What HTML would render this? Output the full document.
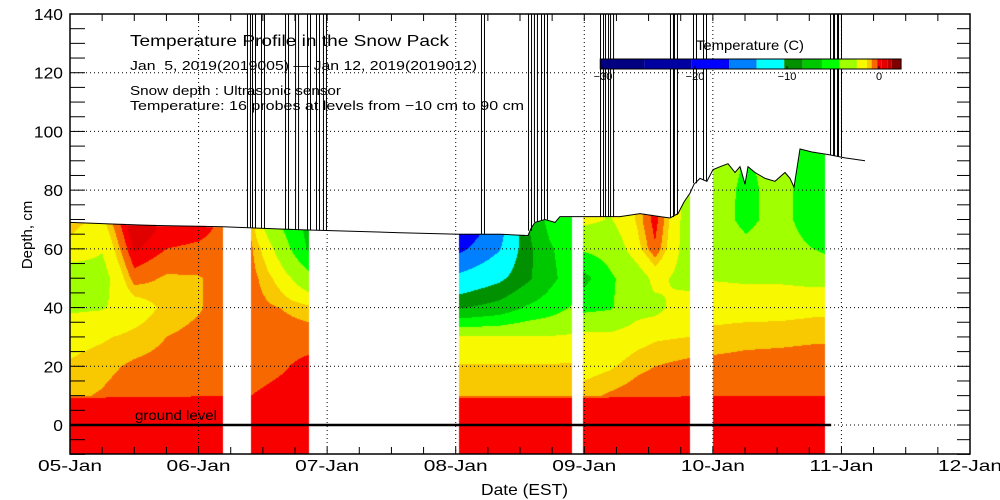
<!DOCTYPE html>
<html><head><meta charset="utf-8">
<style>
html,body{margin:0;padding:0;background:#fff;}
#wrap{position:relative;width:1000px;height:500px;overflow:hidden;}
canvas,svg{position:absolute;left:0;top:0;}
text{font-family:"Liberation Sans",sans-serif;fill:#000;}
</style></head>
<body>
<div id="wrap">
<canvas id="heat" width="1000" height="500"></canvas>
<svg id="svg" width="1000" height="500"></svg>
</div>
<script>
// ---------- data ----------
const levels = [-10, 0, 9, 10, 20, 30, 40, 50, 60, 70, 80, 90];
const segStart = [0, 1.408, 3.026, 3.99, 5.0];
const segEnd = [1.19, 1.859, 3.905, 4.82, 5.87];
const segDays = [
  [0, 0.25, 0.5, 0.75, 1.0, 1.19],
  [1.41, 1.52, 1.63, 1.86],
  [3.03, 3.34, 3.55, 3.73, 3.90],
  [4.00, 4.20, 4.41, 4.55, 4.82],
  [5.03, 5.26, 5.52, 5.78, 5.87]
];
const segTemps = [
  [
    [0.2,0.1,0.1,-0.9,-1.2,-1.6,-2.6,-3.4,-1.5,-1.0,-1.0,-1.0],
    [0.2,0.1,0.1,-0.75,-0.95,-1.4,-2.5,-3.0,-2.3,-1.5,-1.5,-1.5],
    [0.2,0.1,0.1,-0.5,-0.7,-1.1,-1.8,-0.5,0.4,1.0,1.0,1.0],
    [0.2,0.1,0.1,-0.4,-0.6,-0.8,-1.1,-0.9,-0.2,0.2,0.2,0.2],
    [0.2,0.1,0.1,-0.3,-0.45,-0.65,-0.85,-0.85,-0.3,0.1,0.1,0.1],
    [0.2,0.1,0.1,-0.3,-0.4,-0.5,-0.6,-0.55,-0.4,-0.3,-0.3,-0.3]
  ],
  [
    [0.2,0.1,0.1,-0.2,-0.45,-0.55,-0.6,-0.6,-0.7,-1.0,-1.0,-1.0],
    [0.2,0.1,0.1,-0.1,-0.4,-0.55,-0.7,-1.0,-1.6,-3.0,-3.0,-3.0],
    [0.2,0.1,0.1,0.0,-0.3,-0.5,-0.8,-1.6,-3.0,-4.5,-4.5,-4.5],
    [0.2,0.1,0.1,0.0,0.0,-0.5,-1.1,-3.6,-6.5,-7.0,-7.0,-7.0]
  ],
  [
    [0.2,0.1,0.1,-0.9,-1.2,-2.3,-8.5,-12.5,-17,-20,-20,-20],
    [0.2,0.1,0.1,-0.9,-1.2,-2.3,-7.5,-10.8,-13.5,-15,-15,-15],
    [0.2,0.1,0.1,-0.9,-1.2,-2.3,-6.0,-8.8,-9.0,-8.5,-8.5,-8.5],
    [0.2,0.1,0.1,-0.9,-1.2,-2.3,-5.2,-6.8,-6.5,-5.5,-5.5,-5.5],
    [0.2,0.1,0.1,-0.9,-1.2,-2.2,-4.2,-5.2,-5.0,-4.8,-4.8,-4.8]
  ],
  [
    [0.2,0.1,0.1,-1.0,-1.6,-1.9,-4.8,-6.8,-4.0,-2.0,-2.0,-2.0],
    [0.2,0.1,0.1,-0.7,-1.4,-2.0,-4.5,-4.6,-3.5,-2.5,-2.5,-2.5],
    [0.2,0.1,0.1,-0.5,-0.95,-1.6,-3.0,-3.2,-1.6,-1.2,-1.2,-1.2],
    [0.2,0.1,0.1,-0.4,-0.8,-1.4,-2.8,-2.0,-0.3,0.1,0.1,0.1],
    [0.2,0.1,0.1,-0.3,-0.6,-1.3,-1.6,-3.0,-3.3,-3.3,-3.3,-3.3]
  ],
  [
    [0.2,0.1,0.1,-0.3,-0.6,-1.1,-1.6,-2.5,-3.3,-3.5,-3.4,-3.0],
    [0.2,0.1,0.1,-0.3,-0.55,-1.0,-1.6,-2.6,-3.8,-4.8,-4.8,-4.5],
    [0.2,0.1,0.1,-0.3,-0.55,-0.95,-1.6,-2.6,-3.3,-3.5,-3.5,-3.5],
    [0.2,0.1,0.1,-0.3,-0.5,-0.9,-1.5,-2.8,-4.3,-5.5,-5.5,-5.0],
    [0.2,0.1,0.1,-0.3,-0.5,-0.9,-1.5,-2.8,-4.6,-5.5,-5.5,-5.0]
  ]
];
const snowDays = [0,0.622,1.19,1.789,2.567,3.026,3.344,3.562,3.586,3.617,3.694,3.772,3.811,3.905,4.006,4.278,4.433,4.589,4.667,4.729,4.776,4.822,4.853,4.9,4.954,5.001,5.056,5.118,5.172,5.211,5.25,5.273,5.328,5.406,5.483,5.561,5.6,5.631,5.678,5.771,5.911,6.028,6.183];
const snowDepth = [69,68,67.5,66.5,65.5,65,65,64.5,67,69,70,69,71,71,71,71,72,71,70.5,72,76,79,82,84,83,87,88,89,86,88,82,88,86,84,83,86,84,81,94,93,92,91,90];
const spikeDays = [1.392,1.431,1.501,1.688,1.766,1.859,1.929,1.983,3.212,3.578,3.624,3.679,3.702,4.138,4.177,4.216,4.682,4.713,4.861,4.939,5.927,5.958,5.989];
const xTickLabels = ["05-Jan","06-Jan","07-Jan","08-Jan","09-Jan","10-Jan","11-Jan","12-Jan"];
const yTickValues = [0,20,40,60,80,100,120,140];
const colorEdges = [-25.5,-20.4,-16.3,-13.3,-10.3,-8.3,-6.2,-4.3,-2.4,-1.3,-0.8,-0.2,0.3,0.9,1.4];
const colorList = ["#000080","#0000a0","#0000ff","#0080ff","#00ffff","#009000","#00c800","#00ff00","#a0ff00","#f8f800","#f8c800","#f86800","#f80000","#e00000","#c00000","#800000"];
const cbarTicks = [-30,-20,-10,0];

// ---------- axes ----------
const X0=70, X1=970, Y0=14, Y1=454;
const xScale = d => X0 + d*(X1-X0)/7;
const yScale = v => 425 - v*(425-14)/140;
const cbX = t => 879 + t*9.2;

function colorFor(t){ let i=0; while(i<colorEdges.length && t>=colorEdges[i]) i++; return colorList[i]; }
function interp(xs, ys, x){
  if(x<=xs[0]) return ys[0];
  for(let i=1;i<xs.length;i++){ if(x<=xs[i]){ const f=(x-xs[i-1])/(xs[i]-xs[i-1]); return ys[i-1]+f*(ys[i]-ys[i-1]); } }
  return ys[ys.length-1];
}

// ---------- heatmap ----------
const ctx = document.getElementById('heat').getContext('2d');
for(let s=0;s<segStart.length;s++){
  const px0=Math.round(xScale(segStart[s])), px1=Math.round(xScale(segEnd[s]));
  for(let px=px0; px<px1; px++){
    const day = (px+0.5-X0)*7/(X1-X0);
    const cols = segTemps[s], days = segDays[s];
    const prof = levels.map((_,k)=>interp(days, cols.map(c=>c[k]), day));
    const top = interp(snowDays, snowDepth, day);
    const yTop = Math.max(Y0, Math.round(yScale(top)));
    for(let py=yTop; py<Y1; py++){
      const dep = (425-(py+0.5))*140/(425-14);
      ctx.fillStyle = colorFor(interp(levels, prof, dep));
      ctx.fillRect(px,py,1,1);
    }
  }
}

// ---------- svg ----------
const NS="http://www.w3.org/2000/svg";
const svg=document.getElementById('svg');
function el(tag, attrs, parent){ const e=document.createElementNS(NS,tag); for(const k in attrs) e.setAttribute(k,attrs[k]); (parent||svg).appendChild(e); return e; }

// grid
for(let i=1;i<7;i++){
  const g=el('line',{x1:xScale(i),x2:xScale(i),y1:Y0,y2:Y1,stroke:'#000','stroke-width':1,'stroke-dasharray':'1,3'});
  
  
}
yTickValues.forEach(v=>{
  if(v===140) return;
  const g=el('line',{x1:X0,x2:X1,y1:yScale(v),y2:yScale(v),stroke:'#000','stroke-width':1,'stroke-dasharray':'1,3'});
  
  
});

// snow depth line
let dStr='';
snowDays.forEach((d,i)=>{ dStr += (i?'L':'M')+xScale(d).toFixed(1)+','+yScale(snowDepth[i]).toFixed(1); });
const sl=el('path',{d:dStr,fill:'none',stroke:'#000','stroke-width':1});


spikeDays.forEach(d=>{
  const x=xScale(d), y=yScale(interp(snowDays,snowDepth,d));
  const p=el('path',{d:`M${x-1.5},${y}V${Y0}M${x+1.5},${Y0}V${y}`,fill:'none',stroke:'#000','stroke-width':1});
  
  
});

// ground level
const gl=el('line',{x1:X0,x2:xScale(5.92),y1:yScale(0),y2:yScale(0),stroke:'#000','stroke-width':2.5});


const gt=el('text',{x:135,y:420,'font-size':14,textLength:82,lengthAdjust:'spacingAndGlyphs'});
gt.textContent='ground level';



// frame
const fr=el('rect',{x:X0,y:Y0,width:X1-X0,height:Y1-Y0,fill:'none',stroke:'#000','stroke-width':1.5});



// x ticks
for(let q=0;q<=28;q++){
  const x=xScale(q/4);
  el('line',{x1:x,x2:x,y1:Y1,y2:Y1-7,stroke:'#000','stroke-width':1});
  el('line',{x1:x,x2:x,y1:Y0,y2:Y0+7,stroke:'#000','stroke-width':1});
}
xTickLabels.forEach((l,i)=>{
  const t=el('text',{x:xScale(i)-32,y:471,'font-size':16,textLength:64,lengthAdjust:'spacingAndGlyphs'});
  t.textContent=l;
  
  
});
// y ticks
for(let v=-10; v<=140; v+=5){
  const y=yScale(v);
  el('line',{x1:X0,x2:X0+15,y1:y,y2:y,stroke:'#000','stroke-width':1});
  el('line',{x1:X1,x2:X1-13,y1:y,y2:y,stroke:'#000','stroke-width':1});
}
yTickValues.forEach(v=>{
  const s=String(v);
  const w=s.length*9.7;
  const t=el('text',{x:63-w,y:yScale(v)+6,'font-size':16,textLength:w,lengthAdjust:'spacingAndGlyphs'});
  t.textContent=s;
  
  
});
const xt=el('text',{x:481,y:495,'font-size':16,textLength:87,lengthAdjust:'spacingAndGlyphs'});
xt.textContent='Date (EST)';


const yt=el('text',{x:0,y:0,'font-size':15,'text-anchor':'middle',transform:'translate(32,235) rotate(-90)'});
yt.textContent='Depth, cm';



// titles
const titles=[["Temperature Profile in the Snow Pack",130,46,16,319,'chart-title'],
["Jan  5, 2019(2019005) \u2014 Jan 12, 2019(2019012)",130,70,13,347,'date-range-subtitle'],
["Snow depth : Ultrasonic sensor",130,95,13,211,'snow-depth-note'],
["Temperature: 16 probes at levels from \u221210 cm to 90 cm",130,110,13,394,'temperature-note']];
titles.forEach(a=>{
  const t=el('text',{x:a[1],y:a[2],'font-size':a[3],textLength:a[4],lengthAdjust:'spacingAndGlyphs'});
  t.setAttribute('style','white-space:pre');
  t.textContent=a[0];
  
  
});

// colorbar
const cbg=el('g',{});


const cbLo=-30.3, cbHi=2.4;
colorList.forEach((c,i)=>{
  const lo = i===0?cbLo:colorEdges[i-1];
  const hi = i===colorEdges.length?cbHi:colorEdges[i];
  el('rect',{x:cbX(lo),y:59,width:cbX(hi)-cbX(lo),height:10,fill:c},cbg);
});
el('rect',{x:cbX(cbLo),y:59,width:cbX(cbHi)-cbX(cbLo),height:10,fill:'none',stroke:'#000','stroke-width':1},cbg);
cbarTicks.forEach(v=>{
  el('line',{x1:cbX(v),x2:cbX(v),y1:69,y2:66,stroke:'#000'},cbg);
  const t=el('text',{x:cbX(v),y:80,'font-size':11,'text-anchor':'middle'},cbg);
  t.textContent=v===0?'0':'\u2212'+Math.abs(v);
  
  
});
const cbt=el('text',{x:696,y:50,'font-size':14,textLength:108,lengthAdjust:'spacingAndGlyphs'},cbg);
cbt.textContent='Temperature (C)';


</script>
</body></html>
